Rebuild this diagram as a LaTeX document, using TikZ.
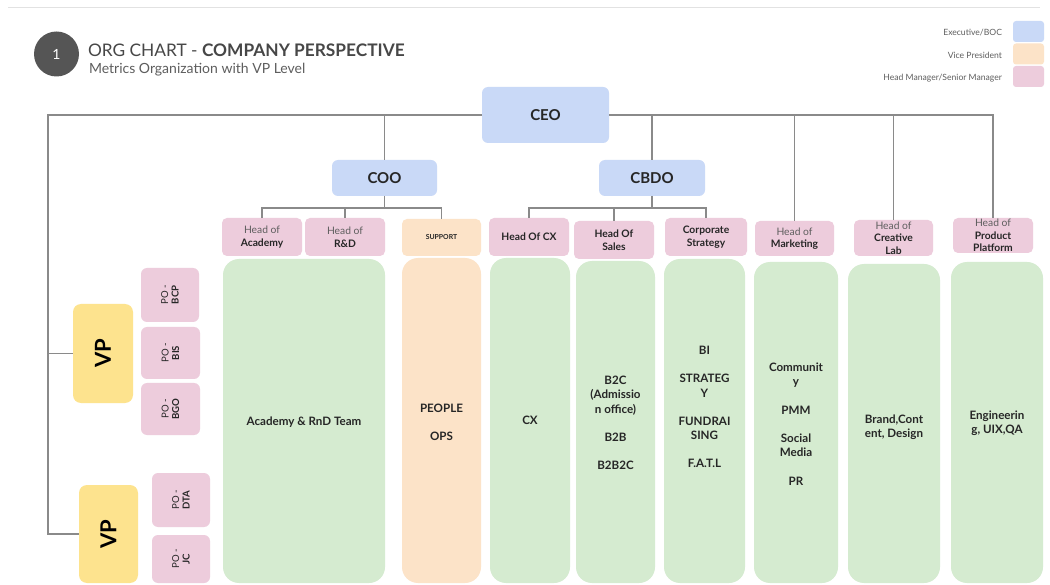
\documentclass[tikz,border=0pt]{standalone}
\usepackage{fontspec}
\setmainfont{Lato}
\definecolor{execblue}{HTML}{C9D9F7}
\definecolor{vporange}{HTML}{FCE3C8}
\definecolor{vpyellow}{HTML}{FDE38E}
\definecolor{headpink}{HTML}{EDCCDC}
\definecolor{teamgreen}{HTML}{D5EBD0}
\definecolor{linegray}{HTML}{8A8A8A}
\definecolor{textdark}{HTML}{262626}
\definecolor{headgray}{HTML}{5E5E5E}
\definecolor{circlegray}{HTML}{555555}
\definecolor{rulegray}{HTML}{E2E2E2}
\begin{document}
\begin{tikzpicture}[x=1pt,y=-1pt,
  every node/.style={inner sep=0pt, outer sep=0pt},
  conn/.style={draw=linegray, line width=1.1pt},
  execbox/.style={fill=execblue, rounded corners=6pt, text=textdark, font=\bfseries\fontsize{15}{17}\selectfont},
  headbox/.style={fill=headpink, rounded corners=5pt, align=center, text=textdark, font=\fontsize{10.3}{12.5}\selectfont},
  supbox/.style={fill=vporange, rounded corners=5pt, text=textdark, font=\bfseries\fontsize{6.9}{8}\selectfont},
  teambox/.style={fill=teamgreen, rounded corners=16pt},
  peoplebox/.style={fill=vporange, rounded corners=16pt},
  teamtext/.style={align=center, text=textdark, font=\bfseries\fontsize{11.6}{14.3}\selectfont},
  vpbox/.style={fill=vpyellow, rounded corners=8pt, rotate=90, text=black, font=\bfseries\fontsize{22}{24}\selectfont},
  pobox/.style={fill=headpink, rounded corners=6pt, rotate=90, align=center, text=textdark, font=\fontsize{9.6}{10.5}\selectfont},
  legtext/.style={anchor=east, text=headgray, font=\fontsize{8.6}{10}\selectfont},
  legbox/.style={rounded corners=3pt, minimum width=31, minimum height=21}
]
\useasboundingbox[fill=white] (0,0) rectangle (1050,585);
\draw[rulegray, line width=0.8pt] (8,7) -- (1040,7);

% header
\node[circle, fill=circlegray, minimum size=45, text=white, font=\fontsize{14}{16}\selectfont] (num) at (56.5,54) {1};
\node[anchor=base west, text=textdark!85, font=\fontsize{17.3}{20}\selectfont] (title) at (88,57) {ORG CHART - \textbf{COMPANY PERSPECTIVE}};
\node[anchor=base west, text=headgray, font=\fontsize{14}{16}\selectfont] (subtitle) at (89,74) {Metrics Organization with VP Level};

% legend
\node[legtext] (l1) at (1002,33) {Executive/BOC};
\node[legtext] (l2) at (1002,55) {Vice President};
\node[legtext] (l3) at (1002,78) {Head Manager/Senior Manager};
\node[legbox, fill=execblue] (lb1) at (1028.5,31.5) {};
\node[legbox, fill=vporange] (lb2) at (1028.5,54) {};
\node[legbox, fill=headpink] (lb3) at (1028.5,76.5) {};

% executives
\node[execbox, minimum width=127, minimum height=56] (ceo) at (545.5,115) {CEO};
\node[execbox, minimum width=105, minimum height=36] (coo) at (384.5,178) {COO};
\node[execbox, minimum width=106, minimum height=36] (cbdo) at (652,178) {CBDO};

% heads
\node[headbox, minimum width=80, minimum height=38] (acad) at (262,237) {{\color{headgray}Head of}\\\textbf{Academy}};
\node[headbox, minimum width=80, minimum height=38] (rd) at (345,237) {{\color{headgray}Head of}\\\textbf{R\&D}};
\node[supbox, minimum width=79, minimum height=37] (sup) at (441.5,237.5) {SUPPORT};
\node[headbox, minimum width=80, minimum height=38] (hcx) at (529,237) {\textbf{Head Of CX}};
\node[headbox, minimum width=80, minimum height=38] (sales) at (614,240) {\textbf{Head Of}\\\textbf{Sales}};
\node[headbox, minimum width=82, minimum height=38] (corp) at (706,237) {\textbf{Corporate}\\\textbf{Strategy}};
\node[headbox, minimum width=79, minimum height=35] (mkt) at (794.5,238.5) {{\color{headgray}Head of}\\\textbf{Marketing}};
\node[headbox, minimum width=79, minimum height=36] (cl) at (893.5,238) {{\color{headgray}Head of}\\\textbf{Creative}\\\textbf{Lab}};
\node[headbox, minimum width=80, minimum height=35] (pp) at (993,235.5) {{\color{headgray}Head of}\\\textbf{Product}\\\textbf{Platform}};

% team boxes
\node[teambox, minimum width=162, minimum height=324] (tacad) at (304,421) {};
\node[peoplebox, minimum width=79, minimum height=325] (tpeople) at (441.5,420.5) {};
\node[teambox, minimum width=80, minimum height=325] (tcx) at (530,420.5) {};
\node[teambox, minimum width=79, minimum height=322] (tsales) at (615.5,422) {};
\node[teambox, minimum width=81, minimum height=324] (tcorp) at (704.5,421) {};
\node[teambox, minimum width=84, minimum height=321] (tmkt) at (796,422.5) {};
\node[teambox, minimum width=92, minimum height=319] (tcl) at (894,423.5) {};
\node[teambox, minimum width=92, minimum height=321] (tpp) at (997,422.5) {};

\node[teamtext] (xacad) at (304,422) {Academy \& RnD Team};
\node[teamtext] (xpeople) at (441.5,422) {PEOPLE\\[14pt]OPS};
\node[teamtext] (xcx) at (530,420) {CX};
\node[teamtext] (xsales) at (615.5,423) {B2C\\(Admissio\\n office)\\[14pt]B2B\\[14pt]B2B2C};
\node[teamtext] (xcorp) at (704.5,407) {BI\\[14pt]STRATEG\\Y\\[14pt]FUNDRAI\\SING\\[14pt]F.A.T.L};
\node[teamtext] (xmkt) at (796,424) {Communit\\y\\[14pt]PMM\\[14pt]Social\\Media\\[14pt]PR};
\node[teamtext] (xcl) at (894,427) {Brand,Cont\\ent, Design};
\node[teamtext] (xpp) at (997,423) {Engineerin\\g, UIX,QA};

% VPs and POs
\node[vpbox, minimum width=99, minimum height=60] (vp1) at (103,353.5) {VP};
\node[vpbox, minimum width=98, minimum height=59] (vp2) at (108.5,534) {VP};
\node[pobox, minimum width=54, minimum height=58] (bcp) at (170,295) {PO -\\\textbf{BCP}};
\node[pobox, minimum width=52, minimum height=59] (bis) at (170.5,353) {PO -\\\textbf{BIS}};
\node[pobox, minimum width=52, minimum height=59] (bgo) at (170.5,409) {PO -\\\textbf{BGO}};
\node[pobox, minimum width=54, minimum height=58] (dta) at (181,500) {PO -\\\textbf{DTA}};
\node[pobox, minimum width=48, minimum height=58] (jc) at (181,559) {PO -\\\textbf{JC}};

% connectors
\coordinate (lt) at (48,115);
\coordinate (rt) at (pp.north |- ceo.east);
\coordinate (cooj) at (384.5,208);
\coordinate (cbdoj) at (652,208);
\draw[conn] (ceo.west) -- (lt) |- (vp1.north);
\draw[conn] (lt) |- (vp2.north);
\draw[conn] (ceo.east) -- (rt) -- (pp.north);
\draw[conn] (coo.north) -- (coo.north |- ceo.west);
\draw[conn] (cbdo.north) -- (cbdo.north |- ceo.west);
\draw[conn] (mkt.north) -- (mkt.north |- ceo.west);
\draw[conn] (cl.north) -- (cl.north |- ceo.west);
\draw[conn] (coo.south) -- (cooj);
\draw[conn] (acad.north) -- (acad.north |- cooj) -- (sup.north |- cooj) -- (sup.north);
\draw[conn] (rd.north) -- (rd.north |- cooj);
\draw[conn] (cbdo.south) -- (cbdoj);
\draw[conn] (hcx.north) -- (hcx.north |- cbdoj) -- (corp.north |- cbdoj) -- (corp.north);
\draw[conn] (sales.north) -- (sales.north |- cbdoj);
\end{tikzpicture}
\end{document}
